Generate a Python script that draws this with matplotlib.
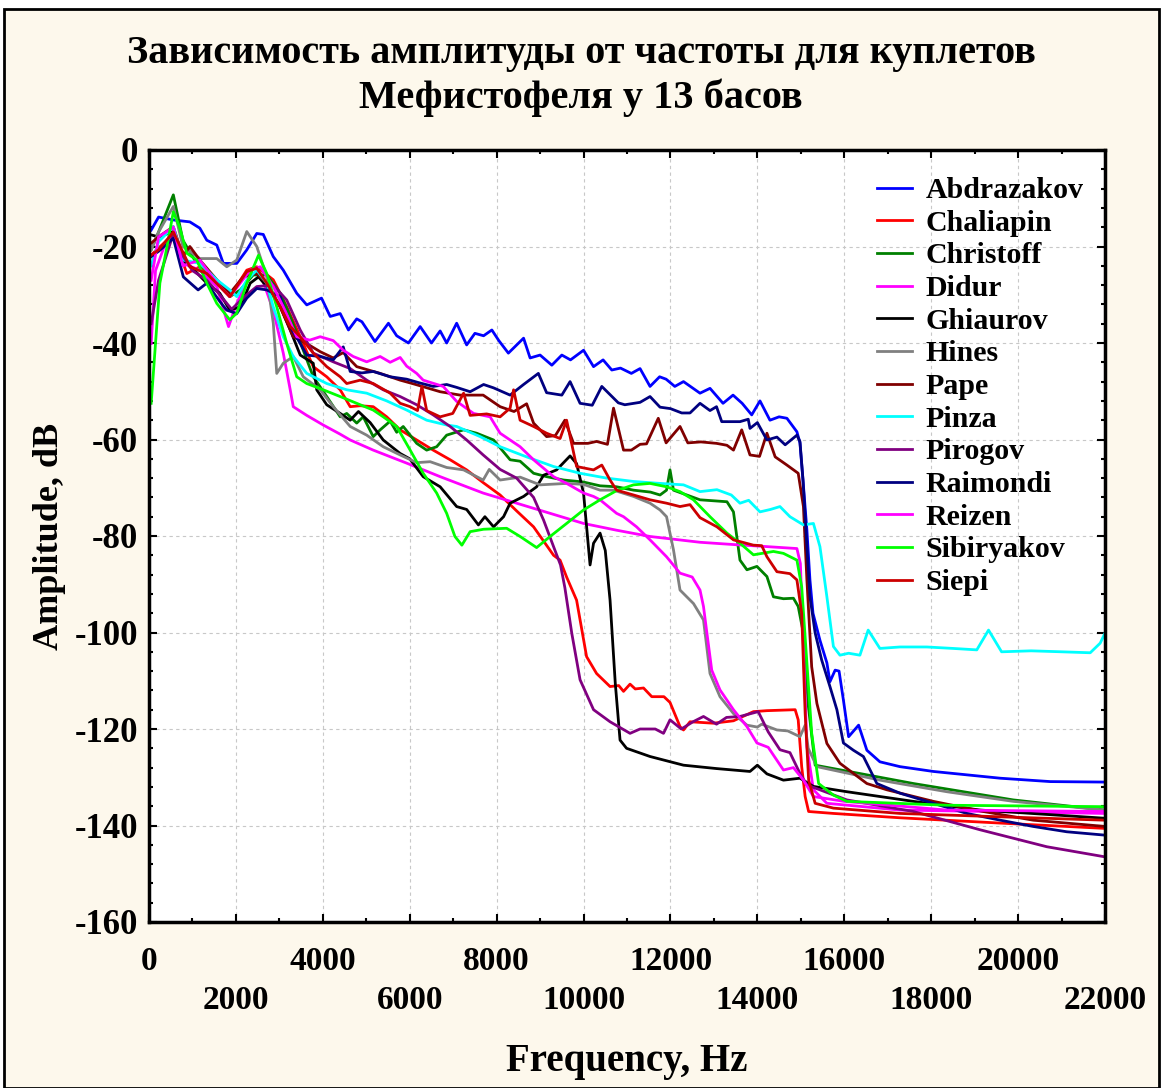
import numpy as np
import matplotlib
matplotlib.use("Agg")
import matplotlib.pyplot as plt
from matplotlib.patches import Rectangle
from matplotlib.ticker import MultipleLocator

# (frequency Hz, amplitude dB)
abdrazakov = [(50, -16.6), (220, -13.9), (560, -14.5), (940, -14.9), (1170, -16.2), (1330, -18.7), (1560, -19.7),
              (1710, -23.5), (2020, -23.5), (2250, -20.7), (2480, -17.3), (2630, -17.5), (2860, -22.1), (3090, -24.9),
              (3400, -29.7), (3630, -32.1), (3800, -31.4), (3970, -30.7), (4170, -34.5), (4400, -33.9), (4590, -37.3),
              (4780, -35.0), (4900, -35.6), (5200, -39.7), (5510, -35.9), (5700, -38.5), (5970, -40.0), (6240, -36.6),
              (6500, -40.0), (6700, -37.5), (6850, -40.0), (7080, -35.9), (7310, -40.4), (7500, -38.0), (7700, -38.5),
              (7890, -37.3), (8050, -39.5), (8270, -42.1), (8620, -39.0), (8770, -43.1), (9000, -42.5), (9270, -44.6),
              (9500, -42.5), (9700, -43.5), (10000, -41.5), (10230, -44.9), (10450, -43.5), (10650, -45.6),
              (10850, -45.2), (11100, -46.3), (11300, -45.3), (11530, -49.0), (11750, -47.0), (11900, -47.5),
              (12100, -49.0), (12300, -48.0), (12680, -50.4), (12910, -49.4), (13210, -52.5), (13440, -50.8),
              (13650, -52.5), (13870, -54.9), (14060, -52.0), (14290, -56.0), (14500, -55.3), (14680, -55.6),
              (14910, -58.4), (14980, -60.7), (15050, -68.4), (15140, -78.8), (15210, -89.1), (15280, -96.0),
              (15440, -101.6), (15600, -106.3), (15670, -110.2), (15790, -107.8), (15880, -108.0), (15980, -114.0),
              (16100, -121.6), (16330, -119.2), (16520, -124.4), (16820, -126.8), (17280, -127.8), (18050, -128.8),
              (18820, -129.5), (19590, -130.2), (20740, -130.9), (22000, -131.0)]

chaliapin = [(50, -21.8), (220, -20.3), (560, -17.6), (870, -25.6), (1170, -24.2), (1560, -27.6), (1860, -30.4),
             (2250, -24.9), (2480, -24.2), (2860, -26.9), (3170, -32.5), (3480, -38.7), (3780, -44.9), (4090, -47.0),
             (4400, -49.7), (4630, -53.2), (4860, -53.0), (5160, -53.2), (5470, -55.3), (5780, -58.0), (6160, -60.1),
             (6540, -62.2), (6930, -64.2), (7310, -66.3), (7700, -69.0), (8080, -71.5), (8460, -74.8), (8850, -78.1),
             (9310, -84.0), (9460, -85.0), (9610, -88.5), (9840, -93.3), (10070, -105.0), (10300, -108.5),
             (10610, -111.2), (10810, -111.0), (10920, -112.2), (11070, -110.7), (11190, -111.7), (11380, -111.5),
             (11570, -113.3), (11850, -113.3), (11990, -114.5), (12220, -119.5), (12300, -120.2), (12450, -118.5),
             (12990, -118.8), (13450, -118.3), (13910, -116.4), (14220, -116.2), (14870, -116.0), (14940, -118.1),
             (15020, -127.8), (15100, -134.0), (15180, -137.1), (15750, -137.5), (17280, -138.4), (19590, -139.5),
             (22000, -140.6)]

christoff = [(50, -20.7), (220, -17.0), (560, -9.3), (780, -18.7), (1050, -22.8), (1330, -24.9), (1630, -27.6),
             (1860, -30.4), (2100, -29.0), (2400, -25.9), (2710, -25.9), (3020, -29.7), (3250, -34.5), (3550, -41.5),
             (3780, -47.0), (4090, -51.1), (4400, -55.3), (4550, -54.6), (4780, -56.6), (4930, -55.3), (5160, -59.4),
             (5320, -58.0), (5550, -56.2), (5700, -58.5), (5850, -57.3), (6160, -60.8), (6390, -62.2), (6620, -61.5),
             (6850, -59.1), (7240, -58.0), (7540, -58.7), (7930, -60.1), (8310, -64.2), (8540, -64.5), (8850, -67.0),
             (9150, -67.7), (9540, -68.4), (9990, -68.8), (10380, -69.6), (10760, -69.8), (11150, -70.5),
             (11540, -70.9), (11760, -71.5), (11910, -70.5), (11990, -66.3), (12070, -70.5), (12680, -72.5),
             (13300, -72.9), (13450, -75.0), (13600, -85.0), (13760, -87.0), (13990, -86.3), (14220, -88.4),
             (14370, -92.6), (14600, -93.0), (14830, -92.9), (14940, -94.6), (15060, -100.2), (15170, -115.0),
             (15330, -127.5), (17590, -131.3), (19890, -134.7), (22000, -136.8)]

didur = [(50, -40.1), (150, -25.0), (350, -20.0), (560, -17.3), (780, -23.5), (1170, -24.9), (1560, -28.3),
         (1830, -36.6), (2020, -31.8), (2330, -25.6), (2560, -25.6), (2860, -33.2), (3090, -42.1), (3250, -49.7),
         (3320, -53.2), (3630, -55.0), (4010, -57.0), (4400, -58.9), (4630, -60.1), (5160, -62.2), (5930, -64.9),
         (6700, -67.7), (7310, -69.8), (7690, -71.1), (8460, -73.2), (9230, -75.3), (10000, -77.4), (10760, -78.8),
         (11530, -80.1), (12680, -81.3), (13500, -81.8), (14220, -82.2), (14910, -82.6), (14990, -85.7),
         (15060, -102.9), (15140, -123.7), (15290, -132.6), (15600, -135.4), (17280, -136.8), (22000, -137.5)]

ghiaurov = [(50, -17.6), (220, -18.0), (560, -16.9), (780, -22.8), (1000, -24.5), (1330, -27.6), (1630, -29.7),
            (1860, -33.2), (2100, -32.5), (2330, -27.6), (2520, -26.3), (2780, -29.0), (3020, -32.5), (3250, -37.3),
            (3480, -42.5), (3780, -44.2), (3860, -49.7), (4090, -52.8), (4400, -54.6), (4630, -56.0), (4820, -54.2),
            (5090, -56.5), (5390, -60.1), (5780, -62.9), (6000, -64.0), (6310, -67.7), (6700, -69.8), (7080, -73.9),
            (7310, -74.5), (7580, -77.7), (7730, -76.0), (7930, -78.1), (8160, -76.0), (8310, -73.2), (8620, -71.8),
            (8920, -69.8), (9080, -67.4), (9380, -66.3), (9690, -63.4), (9840, -65.0), (10000, -71.1), (10150, -86.0),
            (10230, -81.5), (10380, -79.4), (10500, -83.0), (10610, -93.3), (10730, -110.5), (10840, -122.3),
            (10990, -124.0), (11530, -125.7), (12300, -127.5), (13060, -128.2), (13830, -128.8), (14000, -127.5),
            (14220, -129.3), (14600, -130.6), (14980, -130.2), (15290, -131.9), (16060, -133.0), (17590, -135.0),
            (19130, -136.8), (22000, -138.5)]

hines = [(50, -20.7), (220, -17.0), (560, -11.7), (780, -20.0), (1170, -22.5), (1560, -22.5), (1790, -24.2),
         (2020, -22.8), (2250, -16.9), (2480, -20.0), (2710, -26.3), (2860, -35.9), (2940, -46.3), (3090, -44.2),
         (3320, -42.8), (3550, -47.0), (3940, -49.7), (4240, -53.2), (4630, -57.3), (5010, -59.1), (5390, -61.5),
         (5780, -63.2), (6160, -64.8), (6470, -64.6), (6850, -65.8), (7240, -66.3), (7690, -68.4), (7830, -66.2),
         (8080, -68.4), (8540, -67.8), (9000, -69.4), (9610, -69.1), (10000, -69.3), (10380, -70.5), (10690, -70.5),
         (11150, -71.8), (11530, -73.2), (11760, -74.6), (11910, -76.0), (12070, -82.9), (12220, -91.2),
         (12530, -94.0), (12760, -97.4), (12910, -108.5), (13140, -113.3), (13450, -116.8), (13760, -119.2),
         (14000, -119.6), (14100, -119.0), (14450, -120.2), (14700, -120.4), (14980, -121.6), (15100, -119.2),
         (15170, -124.0), (15370, -127.8), (16820, -130.6), (18360, -133.0), (19890, -135.0), (22000, -136.8)]

pape = [(50, -19.3), (220, -18.0), (560, -15.9), (780, -22.0), (940, -20.0), (1170, -22.8), (1560, -26.9),
        (1860, -29.7), (2170, -26.3), (2480, -25.6), (2710, -27.6), (3020, -32.5), (3320, -38.7), (3480, -39.4),
        (3700, -40.5), (3940, -41.8), (4240, -43.1), (4470, -42.0), (4780, -44.9), (5320, -46.3), (5780, -47.7),
        (6100, -48.5), (6700, -50.1), (7160, -50.8), (7690, -50.8), (8080, -53.2), (8400, -54.2), (8690, -52.6),
        (8850, -56.6), (9150, -59.4), (9350, -59.2), (9570, -56.0), (9770, -60.8), (10100, -60.8), (10300, -60.4),
        (10550, -61.0), (10690, -53.5), (10920, -62.2), (11100, -62.2), (11300, -61.0), (11450, -60.9),
        (11720, -55.6), (11900, -60.7), (12220, -57.3), (12400, -60.7), (12700, -60.5), (13060, -60.8),
        (13300, -61.2), (13450, -62.2), (13640, -58.0), (13830, -63.2), (14050, -63.5), (14220, -58.7),
        (14410, -63.6), (14680, -65.3), (14940, -67.0), (15060, -73.9), (15140, -89.1), (15250, -107.1),
        (15370, -114.7), (15600, -123.0), (15900, -127.1), (16210, -129.2), (16520, -131.3), (16980, -132.6),
        (18050, -135.0), (19200, -137.1), (20350, -138.9), (22000, -140.2)]

pinza = [(50, -24.0), (220, -19.0), (560, -15.9), (780, -22.8), (1170, -23.5), (1560, -26.9), (1860, -29.0),
         (2020, -30.4), (2250, -27.0), (2480, -24.9), (2710, -27.6), (2860, -32.5), (3090, -38.7), (3320, -42.8),
         (3630, -46.3), (4090, -48.4), (4550, -49.7), (5010, -50.4), (5470, -52.0), (5930, -53.9), (6390, -56.0),
         (6850, -57.0), (7080, -57.3), (7620, -59.4), (8080, -61.5), (8690, -63.6), (9310, -65.6), (9920, -67.0),
         (10530, -68.0), (11150, -68.7), (11760, -69.1), (12300, -69.4), (12680, -70.8), (13070, -70.4),
         (13400, -71.5), (13600, -73.2), (13800, -72.6), (14060, -75.0), (14300, -74.5), (14520, -73.9),
         (14750, -76.0), (15060, -77.7), (15290, -77.4), (15440, -82.2), (15600, -92.6), (15750, -102.9),
         (15900, -104.7), (16100, -104.3), (16360, -104.7), (16550, -99.5), (16820, -103.3), (17280, -103.0),
         (17900, -103.0), (18500, -103.3), (19050, -103.6), (19320, -99.5), (19620, -104.0), (20300, -103.8),
         (21000, -104.0), (21660, -104.2), (21890, -102.2), (22000, -100.1)]

pirogov = [(50, -36.0), (220, -27.0), (560, -17.3), (780, -22.0), (1000, -25.0), (1330, -27.0), (1630, -30.0),
           (1900, -33.0), (2250, -30.0), (2480, -28.3), (2860, -28.0), (3170, -31.1), (3480, -37.3), (3780, -42.1),
           (4240, -43.9), (4630, -45.3), (5010, -47.7), (5390, -49.7), (5780, -51.1), (6160, -52.8), (6540, -54.9),
           (6930, -57.3), (7310, -60.1), (7690, -63.2), (8080, -66.2), (8460, -68.0), (8850, -72.0), (9080, -76.7),
           (9310, -82.2), (9470, -86.0), (9570, -90.7), (9730, -100.2), (9920, -109.8), (10230, -116.0),
           (10610, -118.5), (11070, -120.9), (11300, -120.0), (11650, -120.0), (11840, -120.9), (11990, -118.1),
           (12250, -120.0), (12520, -118.5), (12760, -117.4), (13060, -119.0), (13290, -117.6), (13600, -117.4),
           (14020, -116.4), (14250, -120.6), (14520, -124.3), (14750, -124.9), (14980, -129.2), (15140, -131.6),
           (16060, -134.7), (17590, -137.1), (19130, -140.9), (20660, -144.4), (22000, -146.5)]

raimondi = [(50, -22.1), (220, -21.0), (560, -18.3), (790, -26.3), (1130, -29.0), (1330, -27.6), (1630, -31.4),
            (1790, -33.2), (2020, -33.9), (2250, -30.7), (2480, -28.7), (2710, -29.0), (3020, -30.4), (3250, -36.6),
            (3480, -40.1), (3630, -42.5), (3940, -42.8), (4240, -43.5), (4470, -40.8), (4630, -45.9), (4900, -46.2),
            (5160, -45.9), (5550, -47.0), (5930, -47.5), (6200, -48.2), (6540, -49.0), (6850, -48.6), (7080, -49.2),
            (7390, -50.1), (7700, -48.6), (7930, -49.3), (8310, -50.8), (8620, -48.6), (8960, -46.3), (9150, -50.3),
            (9500, -50.8), (9690, -48.0), (9920, -52.5), (10200, -52.9), (10420, -49.0), (10800, -52.4),
            (10950, -52.8), (11300, -52.3), (11530, -51.1), (11760, -53.3), (12000, -53.6), (12260, -54.5),
            (12450, -54.5), (12680, -52.5), (12910, -54.0), (13060, -53.2), (13180, -56.3), (13600, -56.3),
            (13790, -55.8), (13830, -57.7), (14000, -56.5), (14220, -60.1), (14450, -59.5), (14640, -61.1),
            (14910, -59.1), (14980, -60.4), (15050, -68.4), (15140, -82.2), (15210, -92.6), (15330, -100.1),
            (15480, -105.7), (15670, -111.2), (15830, -116.0), (15980, -122.9), (16210, -124.4), (16440, -125.7),
            (16750, -131.3), (17280, -133.3), (18050, -135.4), (18820, -137.5), (19590, -138.9), (20350, -140.2),
            (21120, -141.3), (22000, -142.0)]

reizen = [(50, -27.0), (220, -18.0), (560, -16.0), (780, -24.0), (1170, -22.8), (1560, -27.6), (1860, -30.4),
          (2330, -24.9), (2560, -24.2), (2860, -28.3), (3090, -32.5), (3400, -38.7), (3700, -39.4), (3940, -38.7),
          (4240, -39.5), (4470, -41.5), (4700, -42.8), (5010, -43.9), (5320, -42.8), (5550, -44.0), (5780, -43.0),
          (5930, -44.8), (6160, -46.3), (6310, -47.7), (6770, -49.0), (7080, -52.1), (7470, -54.6), (7850, -55.3),
          (8080, -58.7), (8540, -61.5), (8850, -64.2), (9310, -67.7), (9610, -69.1), (10000, -71.1), (10230, -71.8),
          (10380, -72.5), (10760, -75.3), (10920, -76.0), (11220, -78.1), (11530, -80.8), (11910, -84.3),
          (12220, -87.7), (12500, -88.5), (12680, -91.2), (12760, -94.6), (12840, -100.2), (12950, -107.8),
          (13140, -111.9), (13450, -116.0), (13760, -119.5), (13990, -122.9), (14250, -123.8), (14600, -128.5),
          (14830, -128.0), (15060, -130.6), (15290, -134.0), (16000, -135.0), (18360, -136.8), (22000, -137.1)]

sibiryakov = [(50, -52.5), (250, -27.6), (400, -20.7), (560, -12.8), (700, -15.9), (870, -21.4), (1100, -22.8),
              (1330, -27.6), (1560, -31.8), (1860, -35.2), (2020, -33.8), (2250, -27.6), (2520, -21.8), (2710, -25.6),
              (2940, -32.5), (3170, -40.1), (3400, -47.0), (3630, -48.4), (4010, -49.7), (4400, -51.1), (4780, -52.5),
              (5160, -53.9), (5390, -55.3), (5700, -57.3), (6010, -62.2), (6310, -67.0), (6620, -71.1), (6850, -75.3),
              (7040, -80.1), (7200, -81.9), (7390, -79.1), (7700, -78.6), (8230, -78.4), (8540, -80.1), (8920, -82.4),
              (9230, -80.1), (9610, -77.4), (10000, -74.6), (10380, -72.5), (10760, -70.6), (11150, -69.4),
              (11530, -69.1), (11910, -69.8), (12220, -70.8), (12530, -72.5), (12910, -76.0), (13300, -79.4),
              (13600, -81.5), (13910, -83.9), (14370, -83.2), (14600, -83.6), (14910, -85.0), (15020, -90.5),
              (15130, -105.0), (15250, -120.9), (15410, -131.3), (15750, -133.7), (16060, -135.0), (18360, -135.8),
              (22000, -136.1)]

siepi = [(50, -21.8), (220, -20.7), (560, -17.0), (940, -24.2), (1330, -25.6), (1630, -28.3), (1860, -30.4),
         (2250, -25.2), (2480, -24.5), (2710, -27.6), (3020, -32.5), (3250, -36.6), (3480, -38.7), (3780, -42.1),
         (4090, -44.9), (4400, -47.0), (4550, -48.4), (4860, -47.7), (5160, -48.4), (5550, -50.4), (5780, -52.5),
         (6010, -53.2), (6180, -54.0), (6280, -49.0), (6390, -54.0), (6700, -55.3), (6990, -54.6), (7240, -50.4),
         (7390, -55.0), (7770, -54.7), (8080, -55.3), (8310, -53.5), (8390, -49.7), (8540, -56.0), (8850, -57.3),
         (9150, -58.7), (9460, -59.8), (9610, -56.0), (9840, -65.6), (10230, -66.3), (10420, -65.3), (10610, -68.4),
         (10760, -70.5), (11150, -71.5), (11530, -72.5), (11910, -73.2), (12220, -73.9), (12450, -73.5),
         (12680, -76.2), (13070, -78.1), (13450, -80.8), (13910, -81.9), (14100, -82.0), (14220, -84.3),
         (14450, -87.4), (14750, -87.8), (14910, -89.1), (15020, -96.0), (15100, -116.8), (15180, -130.6),
         (15330, -135.4), (15750, -136.4), (17280, -137.5), (19590, -138.2), (22000, -138.9)]

singers = ["Abdrazakov", "Chaliapin", "Christoff", "Didur", "Ghiaurov", "Hines", "Pape",
           "Pinza", "Pirogov", "Raimondi", "Reizen", "Sibiryakov", "Siepi"]
spectra = [abdrazakov, chaliapin, christoff, didur, ghiaurov, hines, pape,
           pinza, pirogov, raimondi, reizen, sibiryakov, siepi]
colors = ["#0000FF", "#FF0000", "#008000", "#FF00FF", "#000000", "#808080", "#800000",
          "#00FFFF", "#800080", "#000080", "#FF00FF", "#00FF00", "#CC0000"]

plt.rcParams["font.family"] = ["Liberation Serif", "DejaVu Serif"]
plt.rcParams["font.weight"] = "bold"

W, H = 1162, 1088
fig = plt.figure(figsize=(W / 100, H / 100), dpi=100, facecolor="white")
# cream page with a black frame, drawn under everything else
fig.patches.append(Rectangle((4 / W, 0), 1155 / W, 1079 / H, transform=fig.transFigure,
                             facecolor="#FDF8EC", edgecolor="black", lw=2, zorder=-10))

ax = fig.add_axes([149 / W, 166 / H, 956 / W, 772 / H])
ax.set_facecolor("white")

for name, pts, c in zip(singers, spectra, colors):
    arr = np.array(pts)
    ax.plot(arr[:, 0], arr[:, 1], color=c, lw=2.0, label=name)

ax.set_xlim(0, 22000)
ax.set_ylim(-160, 0)

xt = np.arange(0, 22001, 2000)
ax.set_xticks(xt)
ax.set_xticklabels([str(v) if i % 2 == 0 else "\n" + str(v) for i, v in enumerate(xt)],
                   fontsize=24, fontweight="bold", linespacing=1.35)
yt = np.arange(-160, 1, 20)
ax.set_yticks(yt)
ax.set_yticklabels([str(v) for v in yt], fontsize=25, fontweight="bold")
ax.xaxis.set_minor_locator(MultipleLocator(1000))
ax.yaxis.set_minor_locator(MultipleLocator(4))
ax.tick_params(which="both", direction="in", top=True, right=True, width=1.5, colors="black")
ax.tick_params(which="major", length=6)
ax.tick_params(which="minor", length=3)
ax.tick_params(axis="x", pad=17)
ax.tick_params(axis="y", pad=8)
for s in ax.spines.values():
    s.set_linewidth(2.5)

ax.set_axisbelow(True)
ax.grid(True, which="major", ls=(0, (3, 3)), color="#C8C8C8", lw=0.8)

ax.legend(loc="upper left", bbox_to_anchor=(0.761, 0.965), frameon=False,
          prop={"family": ["Liberation Serif"], "weight": "bold", "size": 21.5},
          handlelength=1.2, handletextpad=0.45, labelspacing=0.19, borderpad=0, borderaxespad=0)

fig.text(0.5, 1 - 53 / H, "Зависимость амплитуды от частоты для куплетов",
         ha="center", va="center", fontsize=29, fontweight="bold")
fig.text(0.5, 1 - 98 / H, "Мефистофеля у 13 басов",
         ha="center", va="center", fontsize=29, fontweight="bold")
fig.text(627 / W, 1 - 1061 / H, "Frequency, Hz", ha="center", va="center", fontsize=28, fontweight="bold")
fig.text(50 / W, 1 - 536 / H, "Amplitude, dB", ha="center", va="center", rotation=90,
         fontsize=26, fontweight="bold")

fig.savefig("out.png", dpi=100, facecolor=fig.get_facecolor())
